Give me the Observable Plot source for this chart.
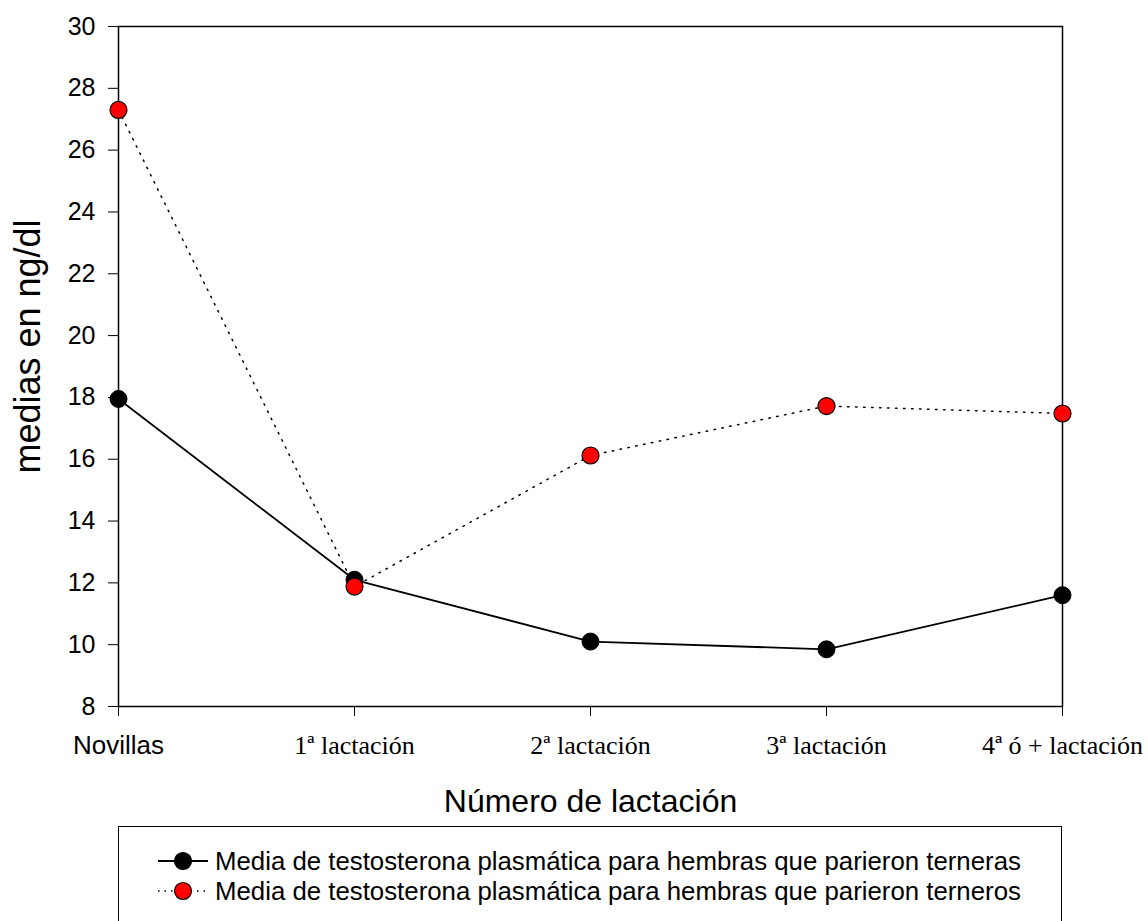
<!DOCTYPE html>
<html>
<head>
<meta charset="utf-8">
<script src="https://cdn.jsdelivr.net/npm/d3@7"></script>
<script src="https://cdn.jsdelivr.net/npm/@observablehq/plot@0.6"></script>
<style>
  html, body { margin: 0; padding: 0; background: #fff; overflow: hidden; }
  #wrap { position: relative; width: 1148px; height: 921px; }
  #wrap > svg { position: absolute; left: 0; top: 0; }
  #legend {
    position: absolute; left: 118px; top: 826px; width: 944px; height: 100px;
    border: 1.5px solid #000; border-bottom: none; box-sizing: border-box;
    font-family: "Liberation Sans", Arial, sans-serif; font-size: 25.8px; color: #000;
    background: transparent;
  }
  .row { position: absolute; left: 38px; display: flex; align-items: center; height: 30px; white-space: nowrap; }
  .row svg { margin-right: 6px; }
</style>
</head>
<body>
<div id="wrap"></div>
<script>
const categories = ["Novillas", "1ª lactación", "2ª lactación", "3ª lactación", "4ª ó + lactación"];
const terneras = [17.95, 12.1, 10.1, 9.85, 11.6];
const terneros = [27.3, 11.88, 16.12, 17.72, 17.48];
const yTicks = [8, 10, 12, 14, 16, 18, 20, 22, 24, 26, 28, 30];
const seriesNames = [
  "Media de testosterona plasmática para hembras que parieron terneras",
  "Media de testosterona plasmática para hembras que parieron terneros"
];
const xTitle = "Número de lactación";
const yTitle = "medias en ng/dl";

const dataA = categories.map((c, i) => ({cat: c, v: terneras[i]}));
const dataB = categories.map((c, i) => ({cat: c, v: terneros[i]}));

const sans = "'Liberation Sans', Arial, sans-serif";
const serif = "'Liberation Serif', 'Times New Roman', serif";

const chart = Plot.plot({
  width: 1148,
  height: 921,
  marginLeft: 118,
  marginRight: 86,
  marginTop: 26,
  marginBottom: 215,
  style: {fontFamily: sans, background: "white", color: "black"},
  x: {type: "point", domain: categories, padding: 0},
  y: {domain: [8, 30]},
  marks: [
    Plot.frame({stroke: "black", strokeWidth: 1.5}),
    Plot.axisY(yTicks, {tickSize: 10, tickPadding: 13, fontSize: 25, label: null, fontFamily: sans}),
    Plot.axisX([categories[0]], {tickSize: 10, tickPadding: 19, fontSize: 26, label: null, fontFamily: sans}),
    Plot.axisX(categories.slice(1), {tickSize: 10, tickPadding: 19, fontSize: 26, label: null, fontFamily: serif}),
    Plot.text([xTitle], {frameAnchor: "bottom", dy: 95, fontSize: 32, lineAnchor: "middle", textAnchor: "middle", fontFamily: sans}),
    Plot.text([yTitle], {frameAnchor: "left", dx: -90, dy: -20, rotate: -90, fontSize: 36, lineAnchor: "middle", textAnchor: "middle", fontFamily: sans}),
    Plot.line(dataA, {x: "cat", y: "v", stroke: "black", strokeWidth: 1.8}),
    Plot.dot(dataA, {x: "cat", y: "v", r: 8.5, fill: "black", stroke: "black", strokeWidth: 1}),
    Plot.line(dataB, {x: "cat", y: "v", stroke: "black", strokeWidth: 1.5, strokeDasharray: "1.5 6.5"}),
    Plot.dot(dataB, {x: "cat", y: "v", r: 8.5, fill: "#ff0000", stroke: "black", strokeWidth: 1.2})
  ]
});

const wrap = document.getElementById("wrap");
wrap.appendChild(chart);

const legend = document.createElement("div");
legend.id = "legend";
const rows = [
  {name: seriesNames[0], fill: "black", dash: null, top: 19},
  {name: seriesNames[1], fill: "#ff0000", dash: "1.5 5", top: 49}
];
rows.forEach(r => {
  const row = document.createElement("div");
  row.className = "row";
  row.style.top = r.top + "px";
  const ns = "http://www.w3.org/2000/svg";
  const svg = document.createElementNS(ns, "svg");
  svg.setAttribute("width", 52); svg.setAttribute("height", 24);
  const ln = document.createElementNS(ns, "line");
  ln.setAttribute("x1", 1); ln.setAttribute("x2", 51); ln.setAttribute("y1", 12); ln.setAttribute("y2", 12);
  ln.setAttribute("stroke", "black"); ln.setAttribute("stroke-width", r.dash ? 1.5 : 1.8);
  if (r.dash) ln.setAttribute("stroke-dasharray", r.dash);
  const c = document.createElementNS(ns, "circle");
  c.setAttribute("cx", 26); c.setAttribute("cy", 12); c.setAttribute("r", 8.5);
  c.setAttribute("fill", r.fill); c.setAttribute("stroke", "black"); c.setAttribute("stroke-width", 1.2);
  svg.appendChild(ln); svg.appendChild(c);
  const span = document.createElement("span");
  span.textContent = r.name;
  row.appendChild(svg); row.appendChild(span);
  legend.appendChild(row);
});
wrap.appendChild(legend);
</script>
</body>
</html>
